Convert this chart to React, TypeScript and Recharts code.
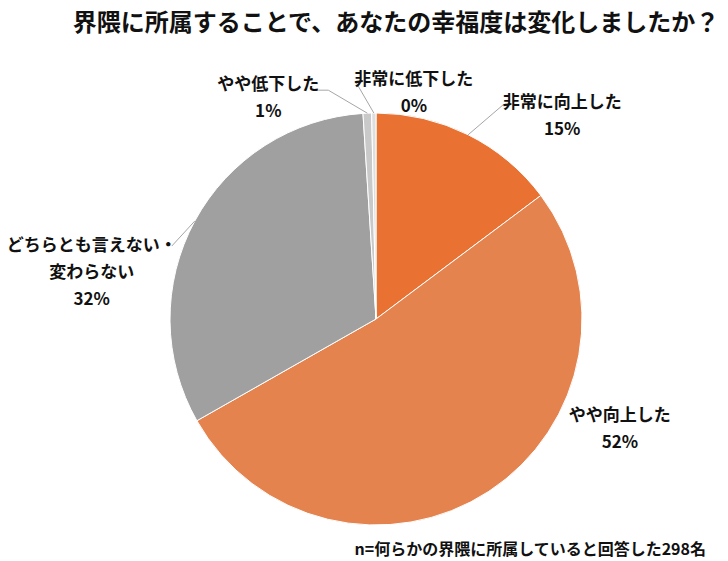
import React from 'react';
import { PieChart, Pie, Cell } from 'recharts';

// 回答者 298 名の内訳（人数）
const categories = [
  '非常に向上した',
  'やや向上した',
  'どちらとも言えない・\n変わらない',
  'やや低下した',
  '非常に低下した',
];
const counts = [44, 155, 96, 2, 1];
const colors = ['#E97132', '#E5834F', '#A0A0A0', '#C9C9C9', '#DEDEDE'];

const title = '界隈に所属することで、あなたの幸福度は変化しましたか？';
const note = 'n=何らかの界隈に所属していると回答した298名';

const data = categories.map((name, i) => ({ name, value: counts[i] }));

// label placement relative to the slice's outer edge at its mid angle
const labelLayout = [
  { dx: 94, dy: -34, leader: [[35, -30]] },
  { dx: 131, dy: -78, leader: [] },
  { dx: -103, dy: 22, leader: [[-23, 25]] },
  { dx: -99, dy: -31, leader: [[-39, -23], [-49, -23]] },
  { dx: 40, dy: -36, leader: [[-18, -31]] },
];

const RADIAN = Math.PI / 180;
const FONT = '"Noto Sans CJK JP", "Noto Sans", sans-serif';

function renderLabel(props: any) {
  const { cx, cy, midAngle, outerRadius, index, percent, name } = props;
  const ex = cx + outerRadius * Math.cos(-midAngle * RADIAN);
  const ey = cy + outerRadius * Math.sin(-midAngle * RADIAN);
  const lay = labelLayout[index];
  const lines: string[] = String(name).split('\n');
  lines.push(`${Math.round(percent * 100)}%`);
  const pts = [[ex, ey], ...lay.leader.map(([x, y]) => [ex + x, ey + y])];
  return (
    <g key={`lbl-${index}`}>
      {pts.length > 1 && (
        <polyline
          points={pts.map((p) => p.join(',')).join(' ')}
          fill="none"
          stroke="#A6A6A6"
          strokeWidth={1}
        />
      )}
      {lines.map((t, i) => (
        <text
          key={i}
          x={ex + lay.dx}
          y={ey + lay.dy + i * 27}
          textAnchor="middle"
          dominantBaseline="central"
          fontFamily={FONT}
          fontWeight={700}
          fontSize={17}
          fill="#111"
        >
          {t}
        </text>
      ))}
    </g>
  );
}

export default function App() {
  return (
    <div
      style={{
        position: 'fixed',
        left: 0,
        top: 0,
        width: 728,
        height: 561,
        background: '#fff',
        fontFamily: FONT,
      }}
    >
      <div
        style={{
          position: 'absolute',
          left: 0,
          top: 3,
          width: 728,
          paddingLeft: 64,
          boxSizing: 'border-box',
          textAlign: 'center',
          fontSize: 24,
          fontWeight: 700,
          color: '#111',
          whiteSpace: 'nowrap',
        }}
      >
        {title}
      </div>
      <PieChart width={728} height={561}>
        <Pie
          data={data}
          dataKey="value"
          nameKey="name"
          cx={371}
          cy={314}
          outerRadius={206}
          startAngle={90}
          endAngle={-270}
          stroke="#fff"
          strokeWidth={1}
          label={renderLabel}
          labelLine={false}
          isAnimationActive={false}
        >
          {data.map((d, i) => (
            <Cell key={d.name} fill={colors[i]} />
          ))}
        </Pie>
      </PieChart>
      <div
        style={{
          position: 'absolute',
          right: 22,
          top: 536,
          fontSize: 16,
          fontWeight: 700,
          color: '#111',
          whiteSpace: 'nowrap',
        }}
      >
        {note}
      </div>
    </div>
  );
}
